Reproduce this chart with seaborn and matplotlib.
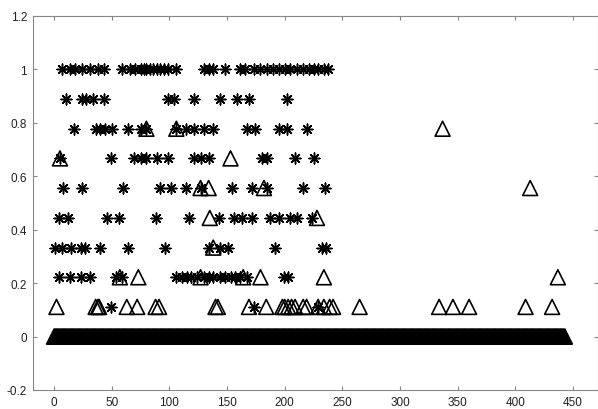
import matplotlib
matplotlib.use('Agg')
import matplotlib.pyplot as plt
import pandas as pd
import seaborn as sns

# y levels (k/9) and x positions of the asterisk points at each level
star_levels = [1.0, 0.889, 0.778, 0.667, 0.556, 0.444, 0.333, 0.222, 0.111]
star_x = [
    [7, 14, 18, 24, 31, 38, 43, 59, 66, 70, 75, 78, 80, 83, 86, 89, 92, 95, 99, 106,
     130, 134, 138, 148, 161, 166, 173, 179, 185, 190, 195, 200, 205, 211, 216, 221,
     225, 229, 234, 238],
    [10, 24, 28, 34, 43, 99, 104, 121, 144, 159, 169, 202],
    [17, 36, 40, 44, 50, 64, 75, 80, 106, 114, 121, 130, 138, 167, 174, 195, 202, 219],
    [5, 49, 69, 75, 80, 89, 99, 121, 127, 134, 180, 185, 209, 225],
    [8, 24, 60, 92, 101, 114, 127, 154, 172, 185, 216, 235],
    [4, 12, 46, 56, 88, 117, 143, 156, 163, 172, 187, 195, 205, 211, 224],
    [1, 7, 15, 23, 27, 40, 64, 96, 134, 144, 151, 192, 232, 236],
    [4, 14, 23, 31, 54, 59, 106, 111, 115, 119, 124, 130, 134, 138, 144, 148, 153,
     157, 161, 167, 199, 203],
    [49, 173, 229],
]

# y levels and x positions of the triangle points
tri_levels = [0.778, 0.667, 0.556, 0.444, 0.333, 0.222, 0.111]
tri_x = [
    [80, 106, 337],
    [5, 153],
    [127, 134, 182, 413],
    [135, 228],
    [138],
    [57, 73, 127, 164, 179, 234, 437],
    [2, 36, 38, 39, 63, 72, 88, 91, 140, 142, 169, 184, 198, 200, 203, 206, 209,
     216, 219, 229, 234, 239, 242, 265, 334, 346, 360, 409, 432],
]

# triangles sitting at y = 0 (one per sample index)
zero_level = 0.0
zero_x = [
    0, 1, 2, 3, 4, 5, 6, 7, 8, 9, 10, 11, 12, 13, 14, 15, 16, 17, 18, 19,
    20, 21, 22, 23, 24, 25, 26, 27, 28, 29, 30, 31, 32, 33, 34, 35, 36, 37, 38, 39,
    40, 41, 42, 43, 44, 45, 46, 47, 48, 49, 50, 51, 52, 53, 54, 55, 56, 57, 58, 59,
    60, 61, 62, 63, 64, 65, 66, 67, 68, 69, 70, 71, 72, 73, 74, 75, 76, 77, 78, 79,
    80, 81, 82, 83, 84, 85, 86, 87, 88, 89, 90, 91, 92, 93, 94, 95, 96, 97, 98, 99,
    100, 101, 102, 103, 104, 105, 106, 107, 108, 109, 110, 111, 112, 113, 114, 115, 116, 117, 118, 119,
    120, 121, 122, 123, 124, 125, 126, 127, 128, 129, 130, 131, 132, 133, 134, 135, 136, 137, 138, 139,
    140, 141, 142, 143, 144, 145, 146, 147, 148, 149, 150, 151, 152, 153, 154, 155, 156, 157, 158, 159,
    160, 161, 162, 163, 164, 165, 166, 167, 168, 169, 170, 171, 172, 173, 174, 175, 176, 177, 178, 179,
    180, 181, 182, 183, 184, 185, 186, 187, 188, 189, 190, 191, 192, 193, 194, 195, 196, 197, 198, 199,
    200, 201, 202, 203, 204, 205, 206, 207, 208, 209, 210, 211, 212, 213, 214, 215, 216, 217, 218, 219,
    220, 221, 222, 223, 224, 225, 226, 227, 228, 229, 230, 231, 232, 233, 234, 235, 236, 237, 238, 239,
    240, 241, 242, 243, 244, 245, 246, 247, 248, 249, 250, 251, 252, 253, 254, 255, 256, 257, 258, 259,
    260, 261, 262, 263, 264, 265, 266, 267, 268, 269, 270, 271, 272, 273, 274, 275, 276, 277, 278, 279,
    280, 281, 282, 283, 284, 285, 286, 287, 288, 289, 290, 291, 292, 293, 294, 295, 296, 297, 298, 299,
    300, 301, 302, 303, 304, 305, 306, 307, 308, 309, 310, 311, 312, 313, 314, 315, 316, 317, 318, 319,
    320, 321, 322, 323, 324, 325, 326, 327, 328, 329, 330, 331, 332, 333, 334, 335, 336, 337, 338, 339,
    340, 341, 342, 343, 344, 345, 346, 347, 348, 349, 350, 351, 352, 353, 354, 355, 356, 357, 358, 359,
    360, 361, 362, 363, 364, 365, 366, 367, 368, 369, 370, 371, 372, 373, 374, 375, 376, 377, 378, 379,
    380, 381, 382, 383, 384, 385, 386, 387, 388, 389, 390, 391, 392, 393, 394, 395, 396, 397, 398, 399,
    400, 401, 402, 403, 404, 405, 406, 407, 408, 409, 410, 411, 412, 413, 414, 415, 416, 417, 418, 419,
    420, 421, 422, 423, 424, 425, 426, 427, 428, 429, 430, 431, 432, 433, 434, 435, 436, 437, 438, 439,
    440, 441, 442, 443,
]

x_ticks = [0, 50, 100, 150, 200, 250, 300, 350, 400, 450]
y_ticks = [-0.2, 0, 0.2, 0.4, 0.6, 0.8, 1.0, 1.2]
y_tick_labels = ['-0.2', '0', '0.2', '0.4', '0.6', '0.8', '1', '1.2']


def to_frame(levels, xs):
    rows = []
    for level, row in zip(levels, xs):
        for x in row:
            rows.append({'x': x, 'y': level})
    return pd.DataFrame(rows)


df_stars = to_frame(star_levels, star_x)
df_tri = to_frame(tri_levels, tri_x)
df_zero = to_frame([zero_level], [zero_x])

sns.set_style('white')
plt.rcParams['font.family'] = ['Liberation Sans', 'DejaVu Sans']

fig = plt.figure(figsize=(5.98, 4.10), dpi=100)
ax = fig.add_axes([32.5 / 598, 19 / 410, 565 / 598, 374 / 410])

sns.scatterplot(x='x', y='y', data=df_zero, marker='^', s=115,
                facecolor='none', edgecolor='black', linewidth=1.3, ax=ax, zorder=2)
sns.scatterplot(x='x', y='y', data=df_tri, marker='^', s=115,
                facecolor='none', edgecolor='black', linewidth=1.2, ax=ax, zorder=2)
sns.scatterplot(x='x', y='y', data=df_stars, marker=(8, 2, 0), s=60,
                color='black', linewidth=1.1, ax=ax, zorder=3)

ax.set_xlim(-18.8, 471.4)
ax.set_ylim(-0.2, 1.2)
ax.set_xticks(x_ticks)
ax.set_yticks(y_ticks)
ax.set_yticklabels(y_tick_labels)
ax.set_xlabel('')
ax.set_ylabel('')
ax.tick_params(direction='in', length=3, width=0.8, color='#888888',
               labelsize=8.5, labelcolor='#222222', top=True, right=True,
               bottom=True, left=True, pad=4)
for spine in ax.spines.values():
    spine.set_color('#888888')
    spine.set_linewidth(0.8)

plt.savefig('out.png', dpi=100)
